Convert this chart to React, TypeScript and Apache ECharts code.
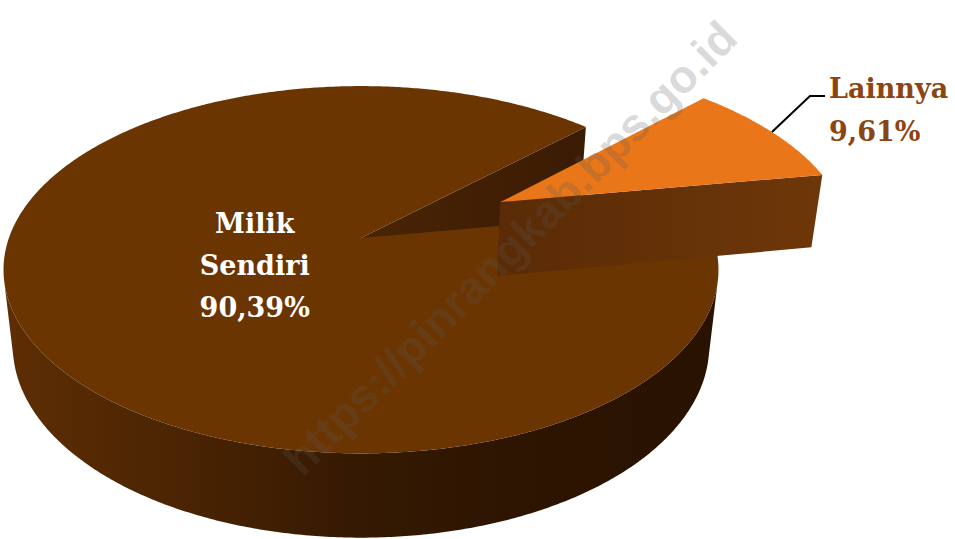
import React, { useEffect, useRef } from "react";
import * as echarts from "echarts";

// ---- data ----
const categories = ["Milik Sendiri", "Lainnya"];
const values = [90.39, 9.61];
const valueLabels = ["90,39%", "9,61%"];
const explodeRatio = [0, 0.46];
const labelInside = [true, false];

// ---- styles ----
const topColors = ["#6B3502", "#E9771A"];
const wallStops = [
  ["#5e2e04", "#4a2403", "#351902", "#2c1401", "#291200"],
  ["#6a3408", "#5a2b06", "#4a2304", "#3a1b03", "#301602"],
];
const radialColors = [
  ["#4a2406", "#3a1b03"],
  ["#5a2b06", "#6e3709"],
];
const insideLabelColor = "#ffffff";
const outsideLabelColor = "#8a4513";

// ---- 3D layout (projection) ----
const START_DEG = -9.7;
const CX = 361;
const CY = 238;
const FOCAL = 1757;
const DIST = 4.99;
const TILT = (30.4 * Math.PI) / 180;
const DEPTH = 0.255;

const total = values.reduce((a, b) => a + b, 0);
const sliceAngles: [number, number][] = [];
{
  let acc = (START_DEG * Math.PI) / 180;
  for (const v of values) {
    const span = (v / total) * Math.PI * 2;
    sliceAngles.push([acc, acc + span]);
    acc += span;
  }
}

const cT = Math.cos(TILT);
const sT = Math.sin(TILT);
const CAM = [0, DIST * sT, DIST * cT];

function project(x: number, y: number, z: number): number[] {
  const yc = y * cT - z * sT;
  const dc = DIST - (z * cT + y * sT);
  return [CX + (FOCAL * x) / dc, CY - (FOCAL * yc) / dc];
}

function visible(p: number[], n: number[]): boolean {
  return (CAM[0] - p[0]) * n[0] + (CAM[1] - p[1]) * n[1] + (CAM[2] - p[2]) * n[2] > 0;
}

function grad(stops: string[]) {
  return new echarts.graphic.LinearGradient(
    0,
    0,
    1,
    0,
    stops.map((c, i) => ({ offset: i / (stops.length - 1), color: c }))
  );
}

function renderItem(params: any, api: any) {
  const i = params.dataIndex;
  const [a0, a1] = sliceAngles[i];
  const mid = (a0 + a1) / 2;
  const ex = explodeRatio[i];
  const ox = ex * Math.cos(mid);
  const oz = ex * Math.sin(mid);
  const rim = (a: number, y: number, r = 1) =>
    project(ox + r * Math.cos(a), y, oz + r * Math.sin(a));

  const children: any[] = [];
  const step = Math.PI / 360;
  const n = Math.max(2, Math.ceil((a1 - a0) / step));

  // outer wall, visible runs only
  let run: number[] = [];
  const flush = () => {
    if (run.length > 1) {
      const pts: number[][] = [];
      for (const a of run) pts.push(rim(a, 0));
      for (let k = run.length - 1; k >= 0; k--) pts.push(rim(run[k], -DEPTH));
      children.push({
        type: "polygon",
        shape: { points: pts },
        style: { fill: grad(wallStops[i]), stroke: null },
      });
    }
    run = [];
  };
  for (let k = 0; k <= n; k++) {
    const a = a0 + ((a1 - a0) * k) / n;
    const p = [ox + Math.cos(a), -DEPTH / 2, oz + Math.sin(a)];
    const nn = [Math.cos(a), 0, Math.sin(a)];
    if (visible(p, nn)) run.push(a);
    else flush();
  }
  flush();

  // radial faces
  const faces: [number, number[]][] = [
    [a0, [Math.sin(a0), 0, -Math.cos(a0)]],
    [a1, [-Math.sin(a1), 0, Math.cos(a1)]],
  ];
  for (const [a, nn] of faces) {
    const p = [ox + 0.5 * Math.cos(a), -DEPTH / 2, oz + 0.5 * Math.sin(a)];
    if (!visible(p, nn)) continue;
    const pts = [
      project(ox, 0, oz),
      rim(a, 0),
      rim(a, -DEPTH),
      project(ox, -DEPTH, oz),
    ];
    children.push({
      type: "polygon",
      shape: { points: pts },
      style: { fill: grad(radialColors[i]), stroke: null },
    });
  }

  // top face
  const topPts: number[][] = [project(ox, 0, oz)];
  for (let k = 0; k <= n; k++) topPts.push(rim(a0 + ((a1 - a0) * k) / n, 0));
  children.push({
    type: "polygon",
    shape: { points: topPts },
    style: { fill: topColors[i], stroke: null },
  });

  // labels
  const name = categories[i];
  if (labelInside[i]) {
    const lp = rim(mid, 0, 0.33);
    children.push({
      type: "text",
      style: {
        text: name.replace(" ", "\n") + "\n" + valueLabels[i],
        x: lp[0],
        y: lp[1],
        align: "center",
        verticalAlign: "middle",
        fill: insideLabelColor,
        fontFamily: "DejaVu Serif",
        fontWeight: "bold",
        fontSize: 27,
        lineHeight: 42,
      },
    });
  } else {
    const anchor = rim(mid, 0);
    const bend = [anchor[0] + 38, anchor[1] - 36];
    const end = [bend[0] + 15, bend[1]];
    children.push({
      type: "polyline",
      shape: { points: [anchor, bend, end] },
      style: { stroke: "#000000", lineWidth: 2, fill: null },
    });
    children.push({
      type: "text",
      style: {
        text: name + "\n" + valueLabels[i],
        x: end[0] + 4,
        y: end[1] + 14,
        align: "left",
        verticalAlign: "middle",
        fill: outsideLabelColor,
        fontFamily: "DejaVu Serif",
        fontWeight: "bold",
        fontSize: 27,
        lineHeight: 43,
      },
    });
  }

  return { type: "group", children };
}

export default function App() {
  const ref = useRef<HTMLDivElement>(null);
  useEffect(() => {
    if (!ref.current) return;
    const chart = echarts.init(ref.current, undefined, { renderer: "svg" });
    chart.setOption({
      animation: false,
      backgroundColor: "#ffffff",
      series: [
        {
          type: "custom",
          coordinateSystem: "none",
          silent: true,
          renderItem,
          data: values.map((v, i) => ({ name: categories[i], value: [v, i] })),
        },
      ],
      graphic: [
        {
          type: "text",
          x: 510,
          y: 248,
          rotation: Math.PI / 4,
          z: 100,
          silent: true,
          style: {
            text: "https://pinrangkab.bps.go.id",
            align: "center",
            verticalAlign: "middle",
            fill: "rgba(90,90,90,0.24)",
            fontFamily: "Liberation Sans",
            fontWeight: "bold",
            fontSize: 46,
          },
        },
      ],
    });
    return () => chart.dispose();
  }, []);
  return (
    <div
      ref={ref}
      style={{ position: "absolute", left: 0, top: 0, width: 955, height: 539 }}
    />
  );
}
